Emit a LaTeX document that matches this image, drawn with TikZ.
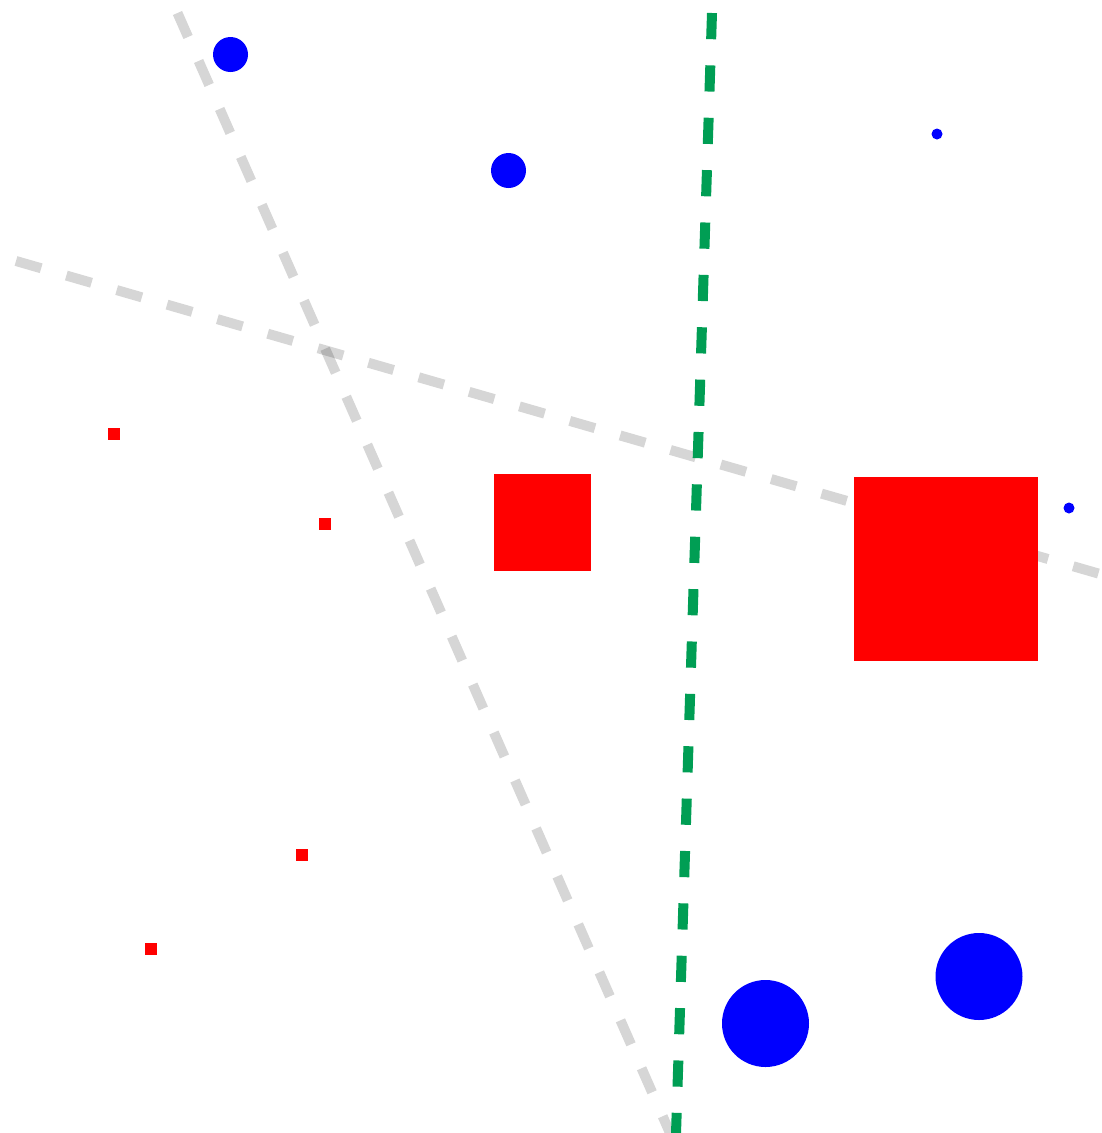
\documentclass[tikz,border=0pt]{standalone}
\begin{document}
\begin{tikzpicture}[x=1pt,y=-1pt,
  greyline/.style={line width=10pt, draw=black, draw opacity=0.16, dash pattern=on 26.2pt off 26.2pt},
  greenline/.style={line width=10pt, draw={rgb,255:red,0;green,158;blue,84}, dash pattern=on 26.2pt off 26.2pt},
  dot/.style={circle, fill=blue, draw=none, inner sep=0pt, minimum size=#1},
  sq/.style={rectangle, fill=red, draw=none, inner sep=0pt, minimum size=#1}]
\useasboundingbox (0,0) rectangle (1101,1133);
\clip (0,0) rectangle (1101,1133);
% guide lines
\coordinate (a1) at (177.5,13);
\coordinate (a2) at (670,1133);
\coordinate (b1) at (16,261);
\coordinate (b2) at (1100,574);
\coordinate (g1) at (712,13);
\coordinate (g2) at (675.8,1140);
\draw[greyline] (a1) -- (a2);
\draw[greyline] (b1) -- (b2);
\draw[greenline] (g1) -- (g2);
% circles
\node[dot=35pt] (c1) at (230.5,54.5) {};
\node[dot=35pt] (c2) at (508.5,170.5) {};
\node[dot=11pt] (c3) at (937,134) {};
\node[dot=11pt] (c4) at (1069,508) {};
\node[dot=87pt] (c5) at (765.5,1023.5) {};
\node[dot=87pt] (c6) at (979,976.5) {};
% squares
\node[sq=12pt] (s1) at (114,434) {};
\node[sq=12pt] (s2) at (325,524) {};
\node[sq=12pt] (s3) at (302,855) {};
\node[sq=12pt] (s4) at (151,949) {};
\node[sq=97pt] (s5) at (542.5,522.3) {};
\node[sq=184pt] (s6) at (946,569) {};
\end{tikzpicture}
\end{document}
